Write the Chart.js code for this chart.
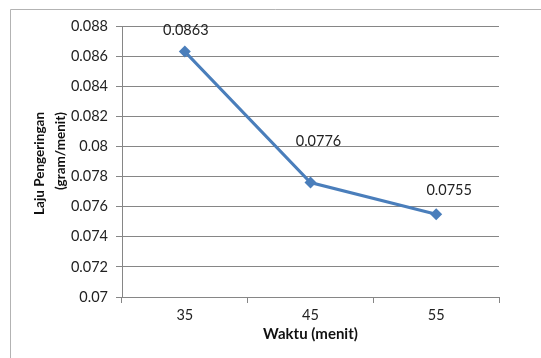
<!DOCTYPE html>
<html>
<head>
<meta charset="utf-8">
<title>Laju Pengeringan</title>
<script src="https://cdn.jsdelivr.net/npm/chart.js@4/dist/chart.umd.min.js"></script>
<style>
  html, body { margin: 0; padding: 0; background: #fff; }
  canvas { display: block; }
</style>
</head>
<body>
<canvas id="dryingChart" width="541" height="358"></canvas>
<script>
// data
const waktu = ['35', '45', '55'];
const lajuPengeringan = [0.0863, 0.0776, 0.0755];
const yTicks = [0.07, 0.072, 0.074, 0.076, 0.078, 0.08, 0.082, 0.084, 0.086, 0.088];
const yTitle = ['Laju Pengeringan', '(gram/menit)'];

// label nudges (Excel placed them by hand)
const labelShift = [[1, -21], [8, -41], [13, -24]];

const fontName = 'Lato, "Liberation Sans", sans-serif';

// value labels above the points
const pointLabels = {
    id: 'pointLabels',
    afterDatasetsDraw(chart) {
        const ctx = chart.ctx;
        const meta = chart.getDatasetMeta(0);
        ctx.save();
        ctx.font = '14.5px ' + fontName;
        ctx.fillStyle = '#222';
        ctx.textAlign = 'center';
        ctx.textBaseline = 'middle';
        meta.data.forEach((pt, i) => {
            const [dx, dy] = labelShift[i];
            ctx.fillText(String(lajuPengeringan[i]), pt.x + dx, pt.y + dy);
        });
        ctx.restore();
    }
};

// y title: two rotated lines, both ending at the same height like Excel did it
const yAxisTitle = {
    id: 'yAxisTitle',
    afterDraw(chart) {
        const ctx = chart.ctx;
        ctx.save();
        ctx.font = 'bold 13.5px ' + fontName;
        ctx.fillStyle = '#111';
        ctx.textAlign = 'right';
        ctx.textBaseline = 'middle';
        yTitle.forEach((line, i) => {
            ctx.save();
            ctx.translate(40 + i * 21, 112);
            ctx.rotate(-Math.PI / 2);
            ctx.fillText(line, 0, 0);
            ctx.restore();
        });
        ctx.restore();
    }
};

// chart frame (only top and left edge are inside the picture)
const frame = {
    id: 'frame',
    beforeDraw(chart) {
        const ctx = chart.ctx;
        ctx.save();
        ctx.strokeStyle = '#b3b3b3';
        ctx.lineWidth = 1;
        ctx.beginPath();
        ctx.moveTo(10.5, 358);
        ctx.lineTo(10.5, 9.5);
        ctx.lineTo(541, 9.5);
        ctx.stroke();
        ctx.restore();
    }
};

new Chart(document.getElementById('dryingChart'), {
    type: 'line',
    data: {
        labels: waktu,
        datasets: [{
            data: lajuPengeringan,
            borderColor: '#4a7ebb',
            backgroundColor: '#4a7ebb',
            borderWidth: 3,
            pointStyle: 'rectRot',
            pointRadius: 6,
            pointBorderWidth: 0,
            tension: 0
        }]
    },
    options: {
        responsive: false,
        animation: false,
        layout: { padding: { top: 26, right: 42, bottom: 0, left: 0 } },
        plugins: {
            legend: { display: false },
            tooltip: { enabled: false }
        },
        scales: {
            x: {
                type: 'category',
                offset: true,
                afterFit(scale) { scale.height = 61; },
                grid: {
                    offset: true,
                    drawOnChartArea: false,
                    color: '#868686',
                    tickLength: 6
                },
                border: { color: '#868686' },
                ticks: {
                    padding: 4,
                    color: '#222',
                    font: { family: fontName, size: 14.5 }
                },
                title: {
                    display: true,
                    text: 'Waktu (menit)',
                    color: '#111',
                    padding: { top: 0, bottom: 15 },
                    font: { family: fontName, size: 15, weight: 'bold' }
                }
            },
            y: {
                min: 0.07,
                max: 0.088,
                afterFit(scale) { scale.width = 122; },
                afterBuildTicks(scale) {
                    scale.ticks = yTicks.map(v => ({ value: v }));
                },
                grid: { color: '#868686', tickLength: 6 },
                border: { color: '#868686' },
                ticks: {
                    padding: 8,
                    color: '#222',
                    font: { family: fontName, size: 14.5 },
                    callback: v => String(Number(v.toFixed(3)))
                }
            }
        }
    },
    plugins: [frame, pointLabels, yAxisTitle]
});
</script>
</body>
</html>
